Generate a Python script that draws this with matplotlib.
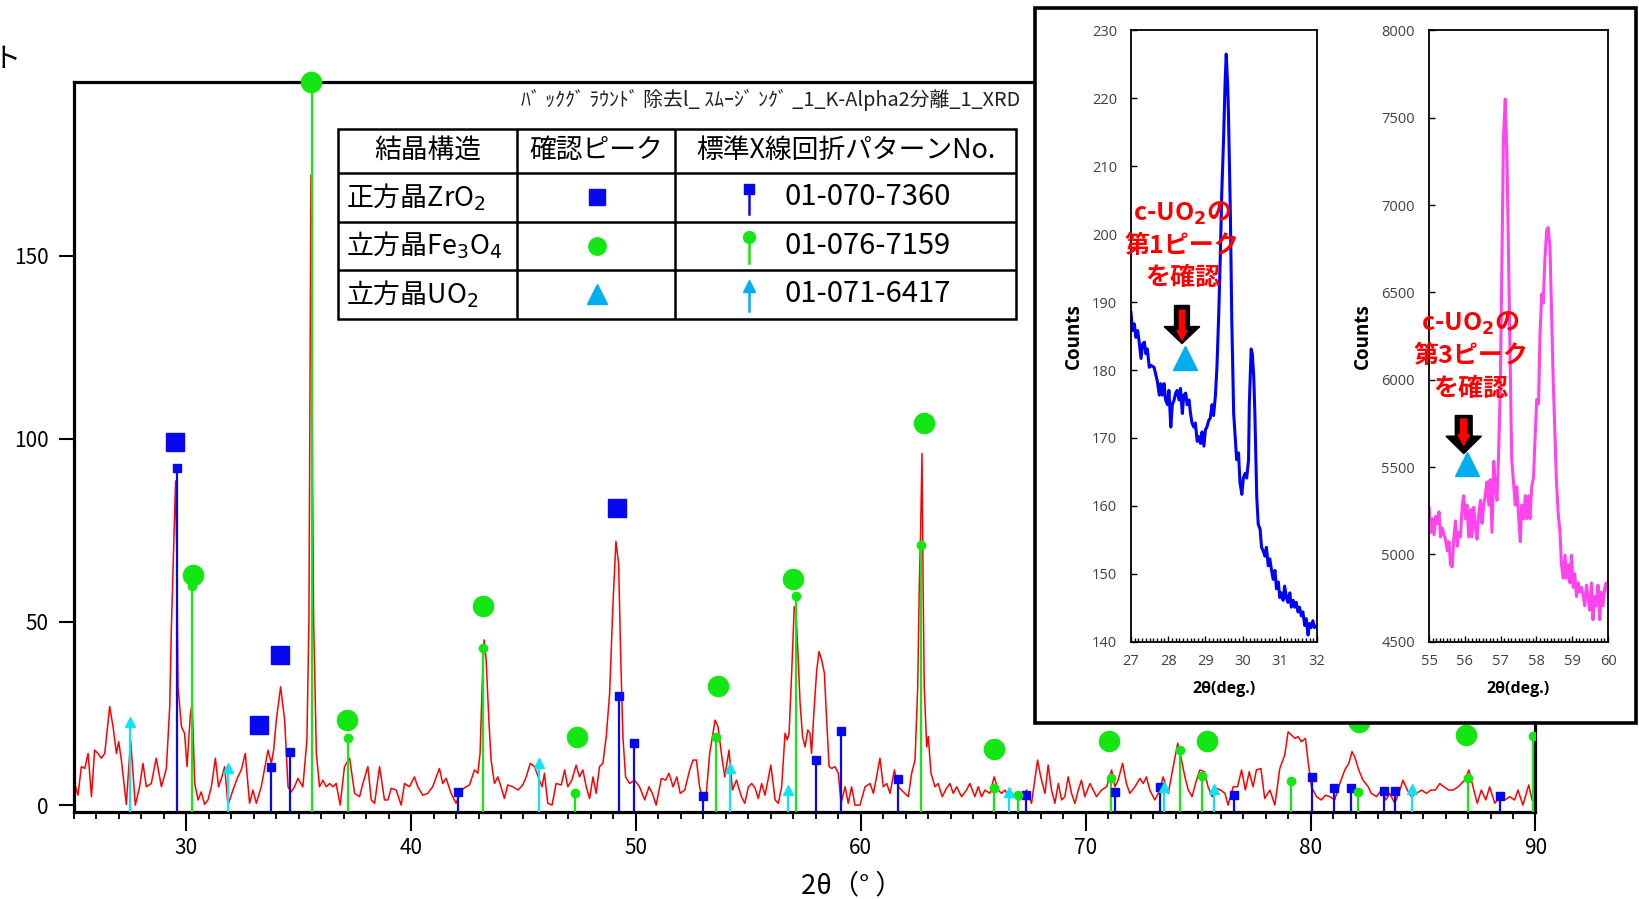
import matplotlib.pyplot as plt
from matplotlib.ticker import MultipleLocator
from matplotlib.patches import Rectangle, FancyArrow

plt.rcParams['font.family'] = ['Noto Sans CJK JP', 'DejaVu Sans']

# XRD scan (2theta, counts), in four pieces
scan_25_40 = [(25.04, 5.9), (25.19, 2.7), (25.34, 10.5), (25.49, 10.0), (25.64, 14.1), (25.79, 2.3),
              (25.93, 15.0), (26.08, 14.1), (26.23, 12.8), (26.38, 14.1), (26.60, 26.9), (26.75, 21.4),
              (26.90, 14.1), (27.00, 17.3), (27.12, 12.3), (27.34, 0.2), (27.53, 17.8), (27.74, 0.0),
              (27.93, 5.0), (28.08, 11.4), (28.23, 5.0), (28.45, 5.9), (28.67, 12.8), (28.90, 5.0),
              (29.12, 10.0), (29.27, 26.9), (29.34, 47.8), (29.44, 68.8), (29.53, 88.5), (29.58, 70.0),
              (29.64, 32.3), (29.79, 21.4), (29.93, 19.6), (30.04, 10.5), (30.19, 25.0), (30.27, 27.8),
              (30.38, 5.9), (30.53, 1.4), (30.67, 3.6), (30.82, 0.2), (30.97, 1.4), (31.12, 5.0),
              (31.30, 12.8), (31.44, 5.0), (31.59, 7.7), (31.71, 10.5), (31.86, 0.0), (32.08, 4.1),
              (32.30, 7.7), (32.45, 9.6), (32.63, 14.1), (32.82, 0.5), (32.97, 4.1), (33.12, 0.5),
              (33.34, 5.0), (33.49, 10.0), (33.64, 15.0), (33.79, 11.4), (33.89, 15.0), (34.01, 23.2),
              (34.20, 32.3), (34.38, 23.2), (34.53, 5.0), (34.67, 3.6), (34.82, 5.0), (34.97, 7.3),
              (35.19, 5.0), (35.37, 17.8), (35.46, 50.5), (35.55, 172.0), (35.62, 90.0), (35.67, 50.0),
              (35.79, 14.1), (35.93, 5.0), (36.08, 6.8), (36.23, 5.0), (36.38, 5.9), (36.53, 5.0),
              (36.67, 5.9), (36.85, 0.0), (37.04, 10.5), (37.27, 12.8), (37.49, 3.2), (37.71, 2.3),
              (37.86, 5.9), (38.08, 10.5), (38.23, 1.4), (38.38, 0.5), (38.60, 10.5), (38.82, 1.4),
              (38.97, 1.4), (39.12, 4.6), (39.34, 4.1), (39.56, 0.0), (39.71, 5.9), (39.93, 5.0)]
scan_40_55 = [(40.15, 7.7), (40.30, 5.0), (40.52, 2.7), (40.74, 3.2), (40.96, 5.0), (41.26, 10.0),
              (41.41, 5.9), (41.56, 7.3), (41.78, 3.2), (42.00, 0.5), (42.23, 4.1), (42.45, 5.0),
              (42.60, 5.5), (42.82, 9.6), (42.97, 8.7), (43.07, 14.1), (43.16, 32.3), (43.25, 45.1),
              (43.34, 39.6), (43.46, 23.2), (43.56, 12.3), (43.71, 5.9), (43.86, 7.7), (44.00, 5.0),
              (44.15, 1.8), (44.30, 5.5), (44.53, 5.0), (44.75, 4.1), (44.97, 5.5), (45.12, 7.7),
              (45.30, 11.4), (45.49, 10.5), (45.71, 6.8), (45.83, 5.0), (45.93, 8.7), (46.08, 0.5),
              (46.27, 0.0), (46.45, 5.9), (46.68, 5.5), (46.83, 9.6), (46.97, 5.0), (47.15, 6.8),
              (47.34, 10.9), (47.49, 7.7), (47.64, 9.6), (47.79, 5.0), (47.94, 1.8), (48.09, 7.7),
              (48.23, 3.2), (48.38, 10.5), (48.53, 11.4), (48.68, 18.7), (48.83, 30.5), (48.98, 55.1),
              (49.11, 72.0), (49.23, 66.0), (49.32, 41.4), (49.42, 18.7), (49.54, 7.7), (49.72, 5.9),
              (49.94, 6.8), (50.16, 5.0), (50.39, 1.4), (50.58, 5.0), (50.73, 3.2), (50.90, 0.0),
              (51.13, 7.3), (51.32, 6.8), (51.47, 8.7), (51.65, 5.0), (51.82, 7.7), (51.97, 3.2),
              (52.17, 4.1), (52.39, 9.6), (52.54, 12.3), (52.69, 12.3), (52.83, 5.0), (52.98, 1.4),
              (53.13, 3.2), (53.28, 14.1), (53.40, 18.7), (53.52, 23.2), (53.65, 21.4), (53.80, 14.1),
              (53.95, 7.7), (54.14, 15.0), (54.29, 4.1), (54.47, 6.8), (54.69, 2.3), (54.84, 0.5)]
scan_55_70 = [(55.00, 5.0), (55.15, 5.9), (55.30, 4.6), (55.44, 1.8), (55.59, 5.9), (55.74, 2.7),
              (56.00, 10.9), (56.19, 1.4), (56.33, 0.5), (56.48, 5.0), (56.63, 19.6), (56.73, 17.8),
              (56.81, 19.6), (56.93, 36.9), (57.04, 54.2), (57.12, 52.4), (57.19, 43.3), (57.30, 27.8),
              (57.41, 18.7), (57.52, 15.9), (57.64, 20.5), (57.74, 19.6), (57.81, 14.1), (57.92, 26.0),
              (58.04, 36.9), (58.14, 41.9), (58.26, 39.6), (58.38, 36.0), (58.48, 23.2), (58.59, 10.5),
              (58.70, 10.0), (58.85, 10.5), (59.00, 8.7), (59.12, 0.5), (59.30, 5.0), (59.44, 0.5),
              (59.59, 5.0), (59.74, 0.0), (59.96, 0.0), (60.19, 5.0), (60.41, 5.9), (60.56, 3.2),
              (60.70, 7.7), (60.85, 12.8), (61.00, 5.0), (61.15, 5.9), (61.30, 3.2), (61.49, 9.6),
              (61.67, 5.0), (61.89, 3.6), (62.11, 2.3), (62.26, 8.7), (62.41, 12.3), (62.53, 32.3),
              (62.60, 59.7), (62.66, 75.0), (62.72, 96.0), (62.77, 60.0), (62.82, 32.3), (62.93, 15.9),
              (63.00, 18.7), (63.12, 8.7), (63.30, 5.0), (63.44, 5.9), (63.62, 2.3), (63.81, 4.6),
              (63.96, 5.9), (64.11, 3.2), (64.26, 5.0), (64.48, 2.3), (64.70, 4.1), (64.85, 5.9),
              (65.07, 2.3), (65.22, 5.0), (65.37, 2.3), (65.52, 4.1), (65.74, 3.2), (65.93, 7.7),
              (66.11, 4.1), (66.26, 3.2), (66.41, 4.1), (66.56, 2.3), (66.70, 3.2), (66.85, 2.3),
              (67.07, 1.4), (67.37, 4.1), (67.59, 0.5), (67.86, 12.3), (68.00, 7.7), (68.19, 3.2),
              (68.33, 10.9), (68.48, 4.1), (68.63, 0.5), (68.78, 5.9), (68.93, 1.4), (69.07, 2.3),
              (69.22, 7.7), (69.37, 3.2), (69.52, 0.5), (69.67, 4.1), (69.81, 6.8), (69.96, 2.3),
              (70.19, 5.9), (70.48, 2.3)]
scan_70_90 = [(70.70, 4.1), (70.93, 5.0), (71.15, 9.6), (71.30, 5.0), (71.44, 6.8), (71.64, 11.4),
              (71.81, 5.9), (71.96, 3.2), (72.19, 5.0), (72.41, 7.3), (72.56, 5.9), (72.70, 7.7),
              (72.85, 4.1), (73.07, 1.4), (73.30, 4.1), (73.44, 7.7), (73.67, 3.2), (73.89, 10.5),
              (74.09, 16.9), (74.23, 13.2), (74.41, 7.7), (74.56, 4.1), (74.73, 2.3), (74.88, 5.9),
              (75.07, 9.6), (75.27, 9.1), (75.44, 5.0), (75.62, 2.3), (75.81, 4.6), (76.00, 4.1),
              (76.19, 3.2), (76.33, 0.0), (76.56, 5.0), (76.75, 5.0), (76.93, 9.6), (77.10, 4.1),
              (77.27, 9.1), (77.44, 5.0), (77.59, 9.6), (77.79, 10.0), (77.96, 1.8), (78.19, 4.1),
              (78.41, 0.0), (78.63, 10.0), (78.85, 13.7), (79.00, 20.0), (79.15, 19.1), (79.30, 18.2),
              (79.44, 18.7), (79.59, 17.3), (79.77, 18.2), (79.89, 11.8), (80.04, 5.0), (80.26, 2.3),
              (80.48, 1.4), (80.66, 2.7), (80.85, 2.3), (81.07, 1.4), (81.30, 5.9), (81.52, 9.6),
              (81.70, 11.4), (81.84, 14.6), (81.96, 13.2), (82.14, 9.6), (82.33, 6.8), (82.56, 5.0),
              (82.70, 3.2), (82.93, 2.3), (83.15, 4.1), (83.34, 1.4), (83.52, 3.2), (83.74, 0.5),
              (83.92, 3.2), (84.11, 6.8), (84.30, 4.1), (84.48, 2.3), (84.70, 3.2), (84.93, 4.1),
              (85.15, 3.2), (85.34, 4.1), (85.55, 4.1), (85.74, 5.9), (85.93, 5.0), (86.14, 4.1),
              (86.33, 4.1), (86.56, 5.0), (86.85, 6.8), (87.04, 9.6), (87.22, 5.0), (87.41, 0.5),
              (87.59, 4.1), (87.79, 1.4), (87.96, 5.0), (88.19, 0.5), (88.41, 2.3), (88.63, 1.4),
              (88.85, 2.3), (89.07, 1.4), (89.22, 4.1), (89.44, 0.0), (89.70, 5.5), (89.85, 1.4)]

# reference cards (stick position, stick height)
zro2_pos = [29.59, 33.79, 34.60, 42.08, 49.24, 49.90, 52.98, 58.02, 59.12, 61.65,
            67.34, 71.30, 73.30, 76.60, 80.08, 81.03, 81.81, 83.25, 83.74, 88.44]
zro2_height = [92.0, 10.3, 14.4, 3.6, 29.9, 16.9, 2.5, 12.3, 20.1, 7.1,
               2.7, 3.6, 5.0, 2.7, 7.6, 4.8, 4.6, 3.9, 3.8, 2.6]
fe3o4_pos = [30.24, 35.59, 37.19, 43.22, 47.31, 53.58, 57.12, 62.69, 65.92, 67.00,
             71.12, 74.19, 75.19, 79.13, 82.11, 87.00, 89.89]
fe3o4_height = [59.7, 196.0, 18.2, 43.0, 3.2, 18.7, 57.1, 71.0, 4.8, 2.8,
                7.5, 15.0, 7.9, 6.6, 3.6, 7.5, 18.9]
uo2_pos = [27.49, 31.86, 45.71, 54.20, 56.78, 66.60, 73.49, 75.71, 84.51]
uo2_height = [22.8, 10.0, 11.4, 10.0, 4.1, 3.6, 5.0, 4.3, 4.3]

# peaks confirmed in the sample
zro2_peak_x = [29.49, 33.24, 34.19, 49.16]
zro2_peak_y = [99.1, 21.9, 41.0, 81.1]
fe3o4_peak_x = [30.30, 35.53, 37.15, 43.19, 47.37, 53.66, 57.00, 62.79, 65.92, 71.04, 75.41, 82.14, 86.93]
fe3o4_peak_y = [62.9, 197.4, 23.2, 54.4, 18.6, 32.4, 61.7, 104.3, 15.3, 17.5, 17.5, 22.8, 19.1]

# insets: raw scans around the 1st and 3rd c-UO2 peaks
inset1_x = [27.00, 27.04, 27.09, 27.13, 27.18, 27.22, 27.27, 27.31, 27.36, 27.40, 27.44, 27.49, 27.53,
            27.62, 27.71, 27.76, 27.80, 27.84, 27.89, 27.93, 27.98,
            28.02, 28.07, 28.11, 28.16, 28.20, 28.24, 28.29, 28.33, 28.38, 28.42, 28.47, 28.51, 28.56,
            28.60, 28.64, 28.69, 28.73, 28.78, 28.82, 28.87, 28.91, 28.96,
            29.00, 29.04, 29.09, 29.13, 29.18, 29.22, 29.27, 29.31, 29.36, 29.40, 29.44, 29.49, 29.53,
            29.56, 29.60, 29.62, 29.67, 29.71, 29.76, 29.80, 29.84, 29.89, 29.93, 29.98,
            30.02, 30.07, 30.11, 30.16, 30.18, 30.23, 30.26, 30.30, 30.33, 30.38, 30.42, 30.47, 30.51,
            30.56, 30.60, 30.64, 30.69, 30.73, 30.78, 30.82, 30.87, 30.91, 30.96,
            31.00, 31.04, 31.09, 31.13, 31.18, 31.22, 31.27, 31.31, 31.36, 31.40, 31.44, 31.49, 31.53,
            31.58, 31.62, 31.67, 31.71, 31.76, 31.80, 31.84, 31.89, 31.93, 32.00]
inset1_y = [188.5, 185.8, 186.8, 184.8, 185.8, 184.1, 181.7, 183.8, 184.1, 182.4, 183.1, 180.4, 180.7,
            180.4, 178.3, 176.3, 178.0, 176.3, 178.0, 175.6, 174.9,
            177.0, 171.6, 174.9, 175.6, 176.6, 177.0, 175.6, 177.3, 173.6, 176.3, 176.6, 174.9, 175.6,
            173.6, 172.2, 171.6, 172.2, 169.5, 170.2, 169.2, 170.9, 168.8,
            171.2, 171.6, 172.6, 172.9, 174.9, 173.3, 176.3, 180.4, 188.5, 196.6, 206.1, 214.3, 222.4,
            226.5, 221.7, 217.7, 203.4, 187.2, 173.6, 170.2, 166.8, 167.8, 163.4, 161.7,
            164.1, 164.8, 164.1, 166.8, 174.9, 183.1, 182.4, 179.0, 173.6, 161.4, 157.3, 156.6, 153.9,
            153.3, 152.6, 153.9, 151.2, 152.2, 150.5, 149.2, 150.5, 147.8, 148.8,
            146.5, 147.2, 146.1, 148.2, 146.5, 145.8, 147.2, 145.1, 146.1, 145.1, 145.8, 144.4, 145.1,
            143.8, 144.4, 142.4, 143.4, 141.0, 142.7, 142.1, 143.1, 142.1, 142.4]
inset2_x = [55.00, 55.05, 55.09, 55.14, 55.19, 55.23, 55.28, 55.32, 55.37, 55.42, 55.46, 55.51, 55.56,
            55.60, 55.65, 55.69, 55.74, 55.79, 55.83, 55.88, 55.93, 55.97, 56.02, 56.06, 56.11, 56.16,
            56.20, 56.25, 56.30, 56.34, 56.39, 56.44, 56.48, 56.53, 56.57, 56.62, 56.67, 56.71, 56.76,
            56.81, 56.85, 56.90, 56.94, 56.99, 57.04, 57.08, 57.13, 57.18, 57.22, 57.27, 57.31, 57.36,
            57.41, 57.45, 57.50, 57.55, 57.59, 57.64, 57.69, 57.73, 57.78, 57.82, 57.87, 57.92, 57.96,
            58.01, 58.06, 58.10, 58.15, 58.19, 58.24, 58.29, 58.33, 58.38, 58.43, 58.47, 58.52, 58.56,
            58.61, 58.66, 58.70, 58.75, 58.80, 58.84, 58.89, 58.94, 58.98, 59.03, 59.07, 59.12, 59.17,
            59.21, 59.26, 59.31, 59.35, 59.40, 59.44, 59.49, 59.54, 59.58, 59.63, 59.68, 59.72, 59.77,
            59.81, 59.86, 59.91, 59.95, 60.00]
inset2_y = [5270, 5126, 5205, 5113, 5218, 5178, 5244, 5100, 5152, 5113, 5087, 5021, 5073,
            4942, 4929, 5087, 5192, 5047, 5126, 5100, 5283, 5336, 5205, 5283, 5100, 5257,
            5100, 5270, 5152, 5087, 5231, 5310, 5178, 5283, 5336, 5415, 5283, 5428, 5126,
            5533, 5388, 5310, 5546, 5940, 6727, 7383, 7606, 7252, 6727, 6071, 5546, 5415,
            5283, 5388, 5231, 5073, 5283, 5205, 5336, 5205, 5336, 5205, 5388, 5441, 5651,
            5887, 5861, 6255, 6491, 6438, 6701, 6858, 6871, 6753, 6333, 5992, 5677, 5415,
            5231, 5126, 4942, 4864, 4995, 4864, 4942, 4837, 4995, 4811, 4890, 4759, 4837,
            4785, 4811, 4759, 4706, 4824, 4759, 4680, 4837, 4627, 4759, 4706, 4824, 4627,
            4785, 4706, 4811, 4837, 4785]
uo2_first = (28.45, 181.7)
uo2_third = (56.0, 5517)

table_head = ['結晶構造', '確認ピーク', '標準X線回折パターンNo.']
phase_names = ['正方晶ZrO$_2$', '立方晶Fe$_3$O$_4$', '立方晶UO$_2$']
card_no = ['01-070-7360', '01-076-7159', '01-071-6417']

BLUE = '#0808F0'
GREEN = '#14E614'
CYAN = '#10E4F4'
SKY = '#00AEEF'

W, H = 1639, 899
fig = plt.figure(figsize=(W / 100, H / 100), dpi=100)


def box(x0, y0, x1, y1):
    # pixel box (top-left origin) -> figure fraction
    return [x0 / W, 1 - y1 / H, (x1 - x0) / W, (y1 - y0) / H]


# ---------------- main pattern ----------------
ax = fig.add_axes(box(73.7, 82, 1535.5, 811.7), zorder=1)
scan = scan_25_40 + scan_40_55 + scan_55_70 + scan_70_90
ax.plot([p[0] for p in scan], [p[1] for p in scan], color='#FF0000', lw=1.1, zorder=2)

ax.vlines(zro2_pos, -2, zro2_height, colors=BLUE, lw=1.6, zorder=3)
ax.vlines(fe3o4_pos, -2, fe3o4_height, colors=GREEN, lw=1.6, zorder=3)
ax.vlines(uo2_pos, -2, uo2_height, colors=CYAN, lw=1.6, zorder=3)
ax.plot(zro2_pos, zro2_height, 's', ms=6.2, color=BLUE, zorder=4)
ax.plot(fe3o4_pos, fe3o4_height, 'o', ms=6, color=GREEN, zorder=4)
ax.plot(uo2_pos, uo2_height, '^', ms=7, color=CYAN, zorder=4)

ax.plot(zro2_peak_x, zro2_peak_y, 's', ms=13.5, color=BLUE, zorder=5, clip_on=False)
ax.plot(fe3o4_peak_x, fe3o4_peak_y, 'o', ms=14.5, color=GREEN, zorder=5, clip_on=False)

ax.set_xlim(25, 90)
ax.set_ylim(-1.8, 197.4)
ax.xaxis.set_major_locator(MultipleLocator(10))
ax.xaxis.set_minor_locator(MultipleLocator(1))
ax.yaxis.set_major_locator(MultipleLocator(50))
ax.tick_params(axis='x', which='major', direction='out', length=14, width=1.5, labelsize=15, pad=4)
ax.tick_params(axis='x', which='minor', direction='out', length=5, width=1.3)
ax.tick_params(axis='y', which='major', direction='out', length=11, width=1.5, labelsize=15, pad=7)
for s in ax.spines.values():
    s.set_linewidth(2.3)

ax.set_xlabel('2θ（° ）', fontsize=19.5)
ax.xaxis.set_label_coords(0.532, -0.102)
ax.xaxis.label.set_va('center')
ax.set_ylabel('カウント', rotation=0, fontsize=20, ha='right', va='center')
ax.yaxis.set_label_coords(-0.0355, 1.032)

ax.text(0.306, 0.975, 'ﾊﾞ ｯｸｸﾞ ﾗｳﾝﾄﾞ 除去l_ ｽﾑｰｼﾞ ﾝｸﾞ _1_K-Alpha2分離_1_XRD',
        transform=ax.transAxes, fontsize=14.3, color='#202020', va='center', ha='left')

# ---------------- overlay: table and inset frame ----------------
ov = fig.add_axes([0, 0, 1, 1], zorder=2)
ov.set_xlim(0, W)
ov.set_ylim(H, 0)
ov.axis('off')

cols = [337.6, 517.4, 675.3, 1016]
rows = [128.6, 172.5, 221.6, 269.7, 318.8]
ov.add_patch(Rectangle((cols[0], rows[0]), cols[-1] - cols[0], rows[-1] - rows[0],
                       fc='white', ec='black', lw=1.8))
ov.hlines(rows[1:-1], cols[0], cols[-1], colors='black', lw=1.8)
ov.vlines(cols[1:-1], rows[0], rows[-1], colors='black', lw=1.8)
for i, t in enumerate(table_head):
    ov.text((cols[i] + cols[i + 1]) / 2, (rows[0] + rows[1]) / 2, t,
            fontsize=19.3, ha='center', va='center')

marks = [('s', BLUE, 11.5, 7.5), ('o', GREEN, 12.5, 8.5), ('^', SKY, 14.5, 8)]
for i in range(3):
    yc = (rows[i + 1] + rows[i + 2]) / 2
    m, c, big, small = marks[i]
    ov.text(346, yc, phase_names[i], fontsize=19.4, ha='left', va='center')
    ov.plot(596.9, yc, m, ms=big, color=c)
    ov.plot([748.6, 748.6], [yc - 8.5, yc + 17], color=c, lw=1.8)
    ov.plot(748.6, yc - 8.5, m, ms=small, color=c)
    ov.text(784.3, yc, card_no[i], fontsize=21, ha='left', va='center')

ov.add_patch(Rectangle((1035, 8.4), 601, 715, fc='white', ec='black', lw=2.6, zorder=5))


# ---------------- insets ----------------
def style_inset(a, xlim, ylim, ystep, xlabel_x, ylabel_x):
    a.set_xlim(*xlim)
    a.set_ylim(*ylim)
    a.xaxis.set_major_locator(MultipleLocator(1))
    a.xaxis.set_minor_locator(MultipleLocator(0.1))
    a.yaxis.set_major_locator(MultipleLocator(ystep))
    a.tick_params(which='both', direction='in', width=1.0, labelsize=10.5, labelcolor='#404040')
    a.tick_params(which='major', length=4.5)
    a.tick_params(which='minor', length=3)
    a.tick_params(axis='x', pad=9)
    a.tick_params(axis='y', pad=10)
    for lab in a.get_xticklabels() + a.get_yticklabels():
        lab.set_family(['Open Sans', 'DejaVu Sans'])
    for s in a.spines.values():
        s.set_linewidth(1.3)
    a.set_xlabel('2θ(deg.)', fontsize=11.5, fontweight='bold', family=['Open Sans', 'DejaVu Sans'])
    a.xaxis.set_label_coords(xlabel_x, -0.077)
    a.xaxis.label.set_va('center')
    a.set_ylabel('Counts', fontsize=13.5, fontweight='bold', family=['Open Sans', 'DejaVu Sans'])
    a.yaxis.set_label_coords(ylabel_x, 0.5)
    a.yaxis.label.set_va('center')


def note(a, x, ys, lines, arrow_top, arrow_len, body, head, head_len, red_top, red_len, red_body,
         red_head, red_head_len, tri):
    for y, t in zip(ys, lines):
        a.text(x, y, t, color='#FF0000', fontsize=18, fontweight='bold', ha='center', va='center')
    a.add_patch(FancyArrow(tri[0] - 0.08, arrow_top, 0, -arrow_len, width=body, head_width=head,
                           head_length=head_len, length_includes_head=True, fc='black', ec='black'))
    a.add_patch(FancyArrow(tri[0] - 0.08, red_top, 0, -red_len, width=red_body, head_width=red_head,
                           head_length=red_head_len, length_includes_head=True, fc='#FF0000',
                           ec='#FF0000'))
    a.plot(tri[0], tri[1], '^', ms=17, color=SKY)


ax1 = fig.add_axes(box(1131, 30.3, 1317, 641.8), zorder=3)
ax1.plot(inset1_x, inset1_y, color='#0000FF', lw=2.2)
style_inset(ax1, (27, 32), (140, 230), 10, 0.5, -0.306)
note(ax1, 28.38, [203.0, 198.2, 193.5], ['c-UO$_\\mathbf{2}$の', '第1ピーク', 'を確認'],
     189.5, 5.6, 0.40, 0.96, 2.5, 188.8, 4.4, 0.14, 0.27, 1.4, uo2_first)

ax2 = fig.add_axes(box(1429, 30.3, 1608, 641.8), zorder=3)
ax2.plot(inset2_x, inset2_y, color='#FF44EE', lw=2.2)
style_inset(ax2, (55, 60), (4500, 8000), 500, 0.5, -0.369)
note(ax2, 56.16, [6320, 6136, 5945], ['c-UO$_\\mathbf{2}$の', '第3ピーク', 'を確認'],
     5795, 218, 0.47, 0.99, 100, 5775, 150, 0.17, 0.32, 60, (uo2_third[0] + 0.05, uo2_third[1]))

fig.savefig('out.png', dpi=100)
